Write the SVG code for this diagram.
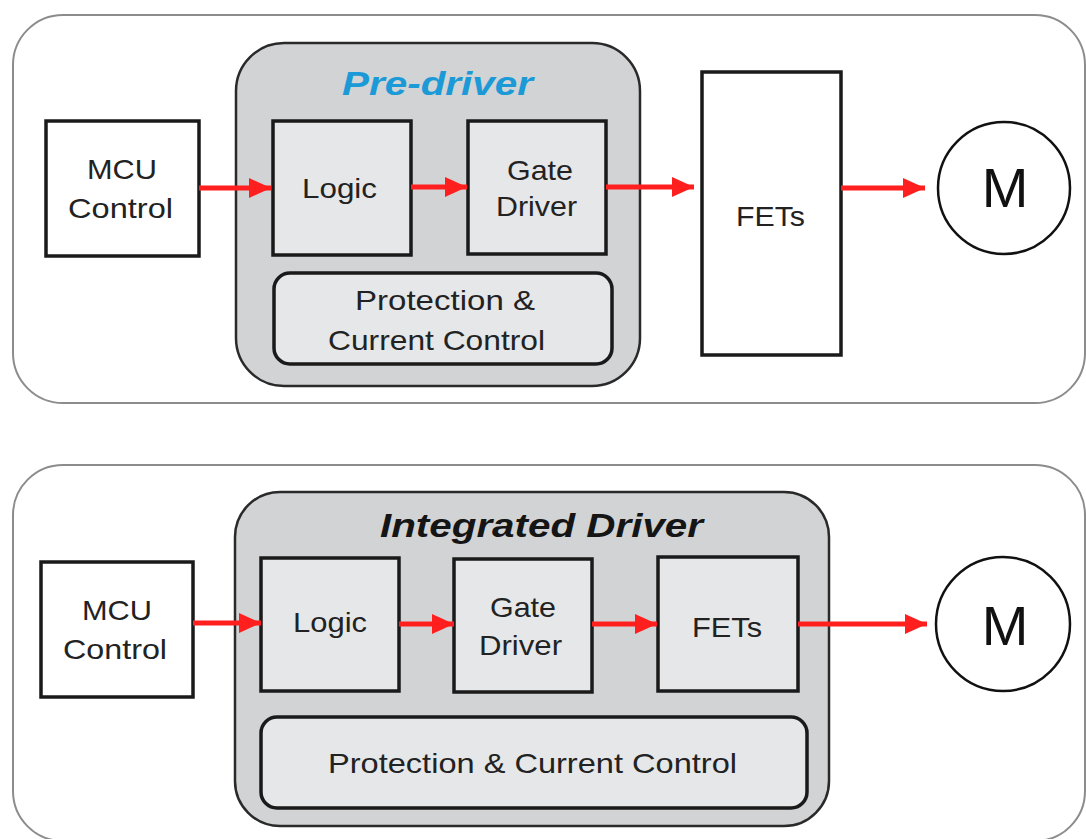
<svg xmlns="http://www.w3.org/2000/svg" width="1086" height="839" viewBox="0 0 1086 839">
  <defs>
    <marker id="arrow" viewBox="0 0 22 20" refX="22" refY="10" markerWidth="22" markerHeight="20" markerUnits="userSpaceOnUse" orient="auto">
      <path d="M0,0 L22,10 L0,20 Z" fill="#ff1f1f"/>
    </marker>
    <style>
      .panel { fill: #ffffff; stroke: #8c8c8c; stroke-width: 2; }
      .chip { fill: #d1d3d4; stroke: #2a2a2a; stroke-width: 2.5; }
      .block { fill: #e6e7e8; stroke: #1a1a1a; stroke-width: 3.5; }
      .plain { fill: #ffffff; stroke: #1a1a1a; stroke-width: 3.5; }
      .motor { fill: #ffffff; stroke: #111111; stroke-width: 2.5; }
      .lbl { font-family: "Liberation Sans", Arial, sans-serif; font-size: 28px; fill: #222222; }
      .big { font-family: "Liberation Sans", Arial, sans-serif; font-size: 56px; fill: #111111; }
      .title { font-family: "Liberation Sans", Arial, sans-serif; font-size: 34px; font-weight: bold; font-style: italic; }
      .flow { stroke: #ff1f1f; stroke-width: 5; fill: none; marker-end: url(#arrow); }
    </style>
  </defs>

  <!-- upper system: discrete pre-driver with external FETs -->
  <g id="panel-predriver">
    <rect class="panel" x="13" y="15" width="1072" height="388" rx="50"/>
  </g>
  <g id="predriver">
    <rect class="chip" x="236" y="43" width="404" height="343" rx="48"/>
    <text class="title" x="342" y="95" fill="#1b9ad7" textLength="191" lengthAdjust="spacingAndGlyphs">Pre-driver</text>
  </g>
  <g id="mcu-1">
    <rect class="plain" x="46" y="121" width="153" height="135"/>
    <text class="lbl" x="87" y="179" textLength="70" lengthAdjust="spacingAndGlyphs">MCU</text>
    <text class="lbl" x="68" y="218" textLength="105" lengthAdjust="spacingAndGlyphs">Control</text>
  </g>
  <g id="logic-1">
    <rect class="block" x="273" y="121" width="138" height="134"/>
    <text class="lbl" x="302" y="198" textLength="75" lengthAdjust="spacingAndGlyphs">Logic</text>
  </g>
  <g id="gate-1">
    <rect class="block" x="468" y="121" width="138" height="133"/>
    <text class="lbl" x="507" y="180" textLength="66" lengthAdjust="spacingAndGlyphs">Gate</text>
    <text class="lbl" x="496" y="216" textLength="81" lengthAdjust="spacingAndGlyphs">Driver</text>
  </g>
  <g id="protect-1">
    <rect class="block" x="274" y="273" width="338" height="91" rx="16" stroke-width="2.5"/>
    <text class="lbl" x="355" y="310" textLength="180" lengthAdjust="spacingAndGlyphs">Protection &amp;</text>
    <text class="lbl" x="328" y="350" textLength="217" lengthAdjust="spacingAndGlyphs">Current Control</text>
  </g>
  <g id="fets-1">
    <rect class="plain" x="702" y="72" width="139" height="283"/>
    <text class="lbl" x="736" y="226" textLength="69" lengthAdjust="spacingAndGlyphs">FETs</text>
  </g>
  <g id="motor-1">
    <circle class="motor" cx="1004" cy="188" r="66"/>
    <text class="big" x="1005" y="207" text-anchor="middle">M</text>
  </g>

  <!-- lower system: integrated driver -->
  <g id="panel-integrated">
    <rect class="panel" x="13" y="465" width="1072" height="376" rx="50"/>
  </g>
  <g id="integrated">
    <rect class="chip" x="235" y="492" width="594" height="334" rx="45"/>
    <text class="title" x="380" y="537" fill="#151515" textLength="323" lengthAdjust="spacingAndGlyphs">Integrated Driver</text>
  </g>
  <g id="mcu-2">
    <rect class="plain" x="41" y="562" width="152" height="135"/>
    <text class="lbl" x="82" y="620" textLength="70" lengthAdjust="spacingAndGlyphs">MCU</text>
    <text class="lbl" x="63" y="659" textLength="104" lengthAdjust="spacingAndGlyphs">Control</text>
  </g>
  <g id="logic-2">
    <rect class="block" x="261" y="558" width="138" height="133"/>
    <text class="lbl" x="293" y="632" textLength="74" lengthAdjust="spacingAndGlyphs">Logic</text>
  </g>
  <g id="gate-2">
    <rect class="block" x="454" y="559" width="138" height="133"/>
    <text class="lbl" x="490" y="617" textLength="66" lengthAdjust="spacingAndGlyphs">Gate</text>
    <text class="lbl" x="479" y="655" textLength="83" lengthAdjust="spacingAndGlyphs">Driver</text>
  </g>
  <g id="fets-2">
    <rect class="block" x="658" y="557" width="140" height="134"/>
    <text class="lbl" x="692" y="637" textLength="70" lengthAdjust="spacingAndGlyphs">FETs</text>
  </g>
  <g id="protect-2">
    <rect class="block" x="261" y="717" width="546" height="91" rx="16" stroke-width="2.5"/>
    <text class="lbl" x="328" y="773" textLength="409" lengthAdjust="spacingAndGlyphs">Protection &amp; Current Control</text>
  </g>
  <g id="motor-2">
    <circle class="motor" cx="1003" cy="624" r="67"/>
    <text class="big" x="1005" y="645" text-anchor="middle">M</text>
  </g>

  <!-- signal flow -->
  <g id="connectors">
    <line class="flow" x1="199" y1="188" x2="271" y2="188"/>
    <line class="flow" x1="411" y1="187" x2="467" y2="187"/>
    <line class="flow" x1="606" y1="187" x2="694" y2="187"/>
    <line class="flow" x1="841" y1="188" x2="925" y2="188"/>
    <line class="flow" x1="193" y1="623" x2="261" y2="623"/>
    <line class="flow" x1="399" y1="624" x2="454" y2="624"/>
    <line class="flow" x1="592" y1="624" x2="657" y2="624"/>
    <line class="flow" x1="798" y1="624" x2="927" y2="624"/>
  </g>
</svg>
